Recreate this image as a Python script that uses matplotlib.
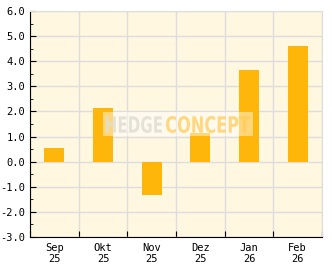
import numpy as np
import matplotlib.pyplot as plt
from matplotlib.ticker import MultipleLocator
from matplotlib.textpath import TextPath
from matplotlib.patches import PathPatch, Rectangle
from matplotlib.font_manager import FontProperties
from matplotlib.transforms import Affine2D

months = ['Sep\n25', 'Okt\n25', 'Nov\n25', 'Dez\n25', 'Jan\n26', 'Feb\n26']
values = [0.53, 2.12, -1.33, 1.13, 3.67, 4.62]

bar_color = '#FFB60A'
bg_color = '#FFF7E0'
grid_color = '#DDDDDD'

fig = plt.figure(figsize=(3.32, 2.69), dpi=100)
ax = fig.add_axes([30 / 332, 32 / 269, 292 / 332, 226 / 269])
ax.set_facecolor(bg_color)

x = np.arange(len(months))
ax.bar(x, values, width=0.41, color=bar_color, zorder=3)

ax.set_xlim(-0.5, len(months) - 0.5)
ax.set_ylim(-3, 6)

# gridlines at category boundaries
ax.set_xticks(np.arange(-0.5, len(months), 1.0))
ax.set_xticklabels([])
ax.set_xticks(x, minor=True)
ax.set_xticklabels(months, minor=True)
ax.yaxis.set_major_locator(MultipleLocator(1.0))
ax.yaxis.set_minor_locator(MultipleLocator(0.5))
ax.set_yticklabels(['%.1f' % v for v in ax.get_yticks()])

ax.grid(True, which='major', color=grid_color, linewidth=1.0, zorder=0)
ax.set_axisbelow(True)

ax.tick_params(axis='x', which='major', direction='in', length=4, color='black')
ax.tick_params(axis='x', which='minor', length=0, pad=4)
ax.tick_params(axis='y', which='major', direction='in', length=4, color='black')
ax.tick_params(axis='y', which='minor', direction='in', length=2.5, color='black')
for lab in ax.get_xticklabels(minor=True) + ax.get_yticklabels():
    lab.set_family('DejaVu Sans Mono')
    lab.set_fontsize(7.5)

ax.spines['left'].set_color('black')
ax.spines['bottom'].set_color('black')
ax.spines['top'].set_color(grid_color)
ax.spines['right'].set_color(grid_color)


# watermark, placed in pixel boxes and squeezed to a condensed look
def px2data(px, py):
    return (px - 30) / 292 * 6 - 0.5, 6 - (py - 11) / 226 * 9


def stretched_text(s, x0, x1, y0, y1, color):
    tp = TextPath((0, 0), s, size=10, prop=FontProperties(family='DejaVu Sans', weight='bold'))
    ext = tp.get_extents()
    dx0, dy1 = px2data(x0, y1)
    dx1, dy0 = px2data(x1, y0)
    tr = (Affine2D().translate(-ext.x0, -ext.y0)
          .scale((dx1 - dx0) / ext.width, (dy0 - dy1) / ext.height)
          .translate(dx0, dy1))
    ax.add_patch(PathPatch(tr.transform_path(tp), facecolor=color, edgecolor='none', zorder=6))


bx0, by1 = px2data(103, 136)
bx1, by0 = px2data(253, 112)
ax.add_patch(Rectangle((bx0, by1), bx1 - bx0, by0 - by1, facecolor='white',
                       edgecolor='none', alpha=0.45, zorder=5))
stretched_text('HEDGE', 106, 162, 116, 133, (0.88, 0.87, 0.83, 0.85))
stretched_text('CONCEPT', 166, 250, 116, 133, (1.0, 0.80, 0.35, 0.75))

plt.savefig('out.png', dpi=100)
